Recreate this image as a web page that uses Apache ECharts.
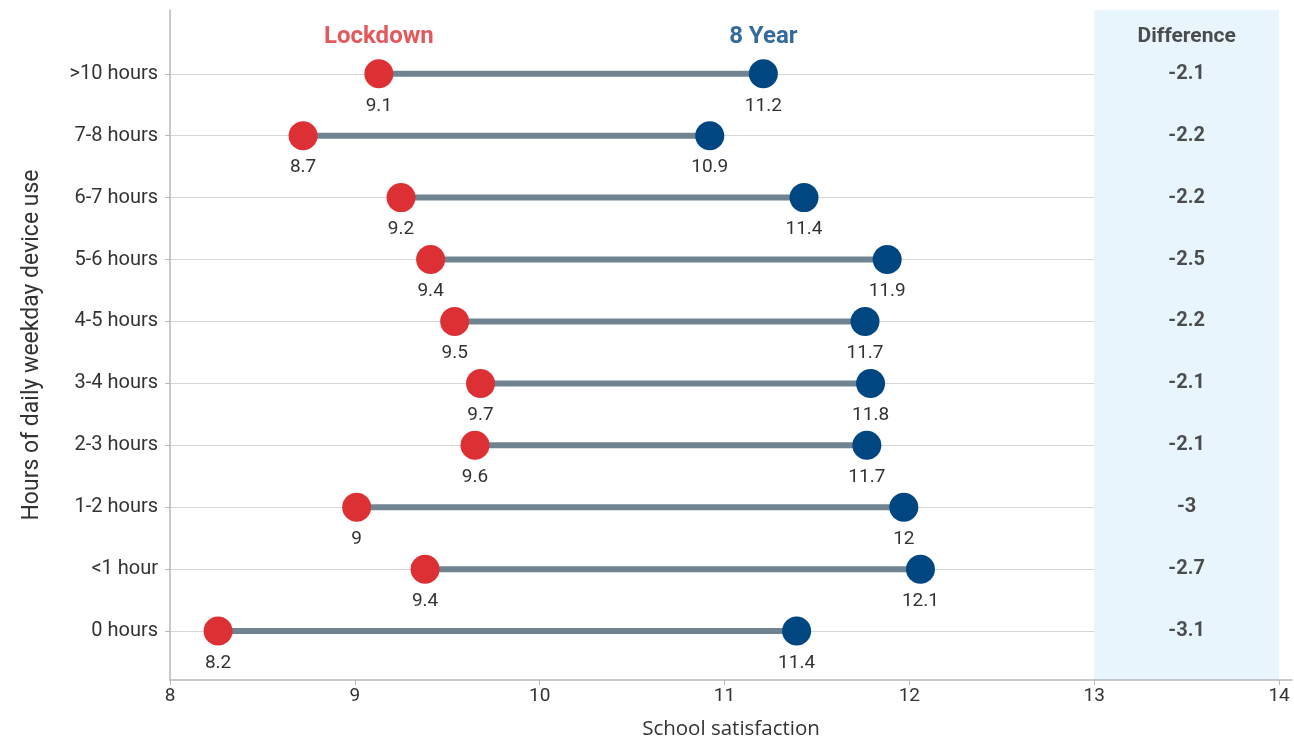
<!DOCTYPE html>
<html>
<head>
<meta charset="utf-8">
<script src="https://cdn.jsdelivr.net/npm/echarts@6/dist/echarts.min.js"></script>
<style>html,body{margin:0;padding:0;background:#fff}#c{width:1294px;height:740px}</style>
</head>
<body>
<div id="c"></div>
<script>
const categories = ['0 hours','<1 hour','1-2 hours','2-3 hours','3-4 hours','4-5 hours','5-6 hours','6-7 hours','7-8 hours','>10 hours'];
const lockdown = [8.26, 9.38, 9.01, 9.65, 9.68, 9.54, 9.41, 9.25, 8.72, 9.13];
const eightYear = [11.39, 12.06, 11.97, 11.77, 11.79, 11.76, 11.88, 11.43, 10.92, 11.21];
const lockLabels = ['8.2','9.4','9','9.6','9.7','9.5','9.4','9.2','8.7','9.1'];
const yearLabels = ['11.4','12.1','12','11.7','11.8','11.7','11.9','11.4','10.9','11.2'];
const diffLabels = ['-3.1','-2.7','-3','-2.1','-2.1','-2.2','-2.5','-2.2','-2.2','-2.1'];
const xTicks = [8, 9, 10, 11, 12, 13, 14];
const headers = ['Lockdown', '8 Year', 'Difference'];

const FONT = 'Roboto, "Noto Sans", sans-serif';
const FONT2 = '"Open Sans", Roboto, sans-serif';
const RED = '#dc3035', BLUE = '#004681', GREY = '#6f8391', TXT = '#333';
const rowIdx = categories.map((c, i) => i);
const topRow = categories.length - 1;
const headerY = topRow + 0.6;
const diffX = (xTicks[5] + xTicks[6]) / 2;
const yMin = -0.79, yMax = 10.03;

const chart = echarts.init(document.getElementById('c'));
chart.setOption({
  animation: false,
  grid: { left: 170, right: 2, top: 10, bottom: 60, outerBoundsMode: 'none', containLabel: false },
  xAxis: {
    type: 'value', min: 8, max: 14.07,
    name: 'School satisfaction', nameLocation: 'middle', nameGap: 39,
    nameTextStyle: { fontFamily: FONT2, fontSize: 20.5, color: TXT },
    axisLine: { show: true, onZero: false, lineStyle: { color: '#b8b8b8', width: 1.5 } },
    axisTick: { show: true, customValues: xTicks, length: 5, lineStyle: { color: '#b8b8b8' } },
    axisLabel: { customValues: xTicks, fontFamily: FONT, fontSize: 19, color: TXT, margin: 7 },
    splitLine: { show: false }
  },
  yAxis: {
    type: 'value', min: yMin, max: yMax,
    name: 'Hours of daily weekday device use', nameLocation: 'middle', nameGap: 126,
    nameTextStyle: { fontFamily: FONT, fontSize: 23, color: TXT },
    axisLine: { show: true, onZero: false, lineStyle: { color: '#b8b8b8', width: 1.5 } },
    axisTick: { show: true, customValues: rowIdx, length: 5, lineStyle: { color: '#b8b8b8' } },
    axisLabel: { customValues: rowIdx, fontFamily: FONT, fontSize: 20, color: TXT, margin: 12,
      formatter: v => categories[Math.round(v)] },
    splitLine: { show: false }
  },
  series: [
    {
      type: 'line', data: [], silent: true, z: 0,
      markLine: { silent: true, symbol: 'none', label: { show: false }, z: 0,
        lineStyle: { color: '#d6d6d6', width: 1, type: 'solid' },
        data: rowIdx.map(i => [{ coord: [8, i] }, { coord: [13, i] }]) },
      markArea: { silent: true, z: 0, itemStyle: { color: '#e8f5fc' },
        data: [[{ xAxis: 13, yAxis: yMin }, { xAxis: 14, yAxis: yMax }]] }
    },
    {
      type: 'custom', silent: true, z: 3,
      data: rowIdx.map(i => [lockdown[i], eightYear[i], i]),
      encode: { x: [0, 1], y: 2 },
      renderItem: (params, api) => {
        const a = api.coord([api.value(0), api.value(2)]);
        const b = api.coord([api.value(1), api.value(2)]);
        return { type: 'line', shape: { x1: a[0], y1: a[1], x2: b[0], y2: b[1] },
          style: { stroke: GREY, lineWidth: 6, fill: null } };
      }
    },
    {
      name: 'Lockdown', type: 'scatter', z: 5, symbolSize: 29,
      itemStyle: { color: RED, opacity: 1 },
      data: rowIdx.map(i => [lockdown[i], i]),
      label: { show: true, position: 'bottom', distance: 8, fontFamily: FONT, fontSize: 19, color: TXT,
        formatter: p => lockLabels[p.dataIndex] }
    },
    {
      name: '8 Year', type: 'scatter', z: 5, symbolSize: 29,
      itemStyle: { color: BLUE, opacity: 1 },
      data: rowIdx.map(i => [eightYear[i], i]),
      label: { show: true, position: 'bottom', distance: 8, fontFamily: FONT, fontSize: 19, color: TXT,
        formatter: p => yearLabels[p.dataIndex] }
    },
    {
      type: 'scatter', z: 6, symbolSize: 0, silent: true,
      data: rowIdx.map(i => [diffX, i]),
      label: { show: true, position: 'inside', fontFamily: FONT, fontSize: 20, fontWeight: 'bold', color: '#222',
        formatter: p => diffLabels[p.dataIndex] }
    },
    {
      type: 'scatter', z: 6, symbolSize: 0, silent: true,
      data: [
        { value: [lockdown[topRow], headerY], label: { color: RED, fontSize: 24 } },
        { value: [eightYear[topRow], headerY], label: { color: BLUE, fontSize: 24 } },
        { value: [diffX, headerY], label: { color: '#222', fontSize: 21 } }
      ],
      label: { show: true, position: 'inside', fontFamily: FONT, fontWeight: 'bold',
        formatter: p => headers[p.dataIndex] }
    }
  ]
});
</script>
</body>
</html>
